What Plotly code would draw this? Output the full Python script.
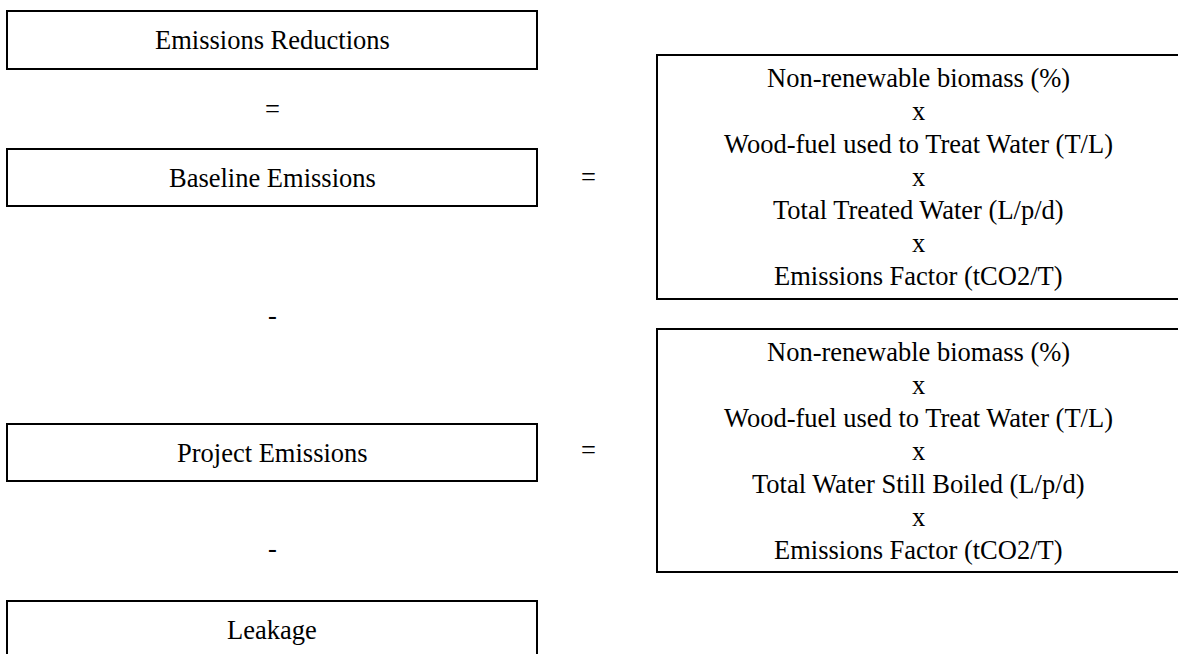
import plotly.graph_objects as go

# Diagram content
left_labels = ["Emissions Reductions", "Baseline Emissions", "Project Emissions", "Leakage"]
left_operators = ["=", "-", "-"]
right_operators = ["=", "="]
baseline_terms = ["Non-renewable biomass (%)", "Wood-fuel used to Treat Water (T/L)",
                  "Total Treated Water (L/p/d)", "Emissions Factor (tCO2/T)"]
project_terms = ["Non-renewable biomass (%)", "Wood-fuel used to Treat Water (T/L)",
                 "Total Water Still Boiled (L/p/d)", "Emissions Factor (tCO2/T)"]
multiply_sign = "x"

# Layout (pixel space)
W, H = 1178, 654
left_boxes_y = [(11, 69), (149, 206), (424, 481), (601, 700)]
left_x = (7, 537)
left_op_y = [109, 315, 548]
right_x = (657, 1250)
right_boxes_y = [(55, 299), (329, 572)]
right_op_x = 588
right_op_y = [177, 450]
FONT = "Liberation Serif, Times New Roman, serif"
FS = 26.5
LINE_GAP = 33
BOX_H = 57
cx_right = 918

fig = go.Figure()
shapes = []
annotations = []


def add_text(x, y, t):
    annotations.append(dict(x=x, y=y, xref="x", yref="y", text=t, showarrow=False,
                            font=dict(family=FONT, size=FS, color="black"),
                            xanchor="center", yanchor="middle"))


for (y0, y1), lab in zip(left_boxes_y, left_labels):
    shapes.append(dict(type="rect", xref="x", yref="y", x0=left_x[0], x1=left_x[1],
                       y0=y0, y1=y1, line=dict(color="black", width=2)))
    cy = (y0 + min(y1, y0 + BOX_H)) / 2
    add_text((left_x[0] + left_x[1]) / 2, cy, lab)

for y, op in zip(left_op_y, left_operators):
    add_text((left_x[0] + left_x[1]) / 2, y, op)

for y, op in zip(right_op_y, right_operators):
    add_text(right_op_x, y, op)

for (y0, y1), terms in zip(right_boxes_y, [baseline_terms, project_terms]):
    shapes.append(dict(type="rect", xref="x", yref="y", x0=right_x[0], x1=right_x[1],
                       y0=y0, y1=y1, line=dict(color="black", width=2)))
    lines = []
    for i, t in enumerate(terms):
        lines.append(t)
        if i < len(terms) - 1:
            lines.append(multiply_sign)
    cy = (y0 + y1) / 2
    n = len(lines)
    for i, t in enumerate(lines):
        add_text(cx_right, cy + (i - (n - 1) / 2) * LINE_GAP, t)

fig.update_layout(
    width=W, height=H, margin=dict(l=0, r=0, t=0, b=0),
    paper_bgcolor="white", plot_bgcolor="white",
    xaxis=dict(range=[0, W], visible=False, fixedrange=True),
    yaxis=dict(range=[H, 0], visible=False, fixedrange=True),
    shapes=shapes, annotations=annotations, showlegend=False,
)

fig.write_html("out.html", config={"displayModeBar": False})

# remove default page margin so the figure sits at the window origin
with open("out.html", "r", encoding="utf-8") as f:
    html = f.read()
html = html.replace("<body>", '<body style="margin:0;overflow:hidden;">', 1)
with open("out.html", "w", encoding="utf-8") as f:
    f.write(html)
